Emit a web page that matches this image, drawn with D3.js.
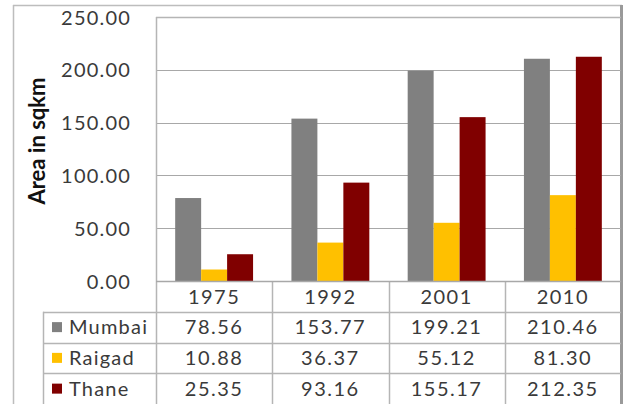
<!DOCTYPE html>
<html><head><meta charset="utf-8">
<script src="https://cdn.jsdelivr.net/npm/d3@7"></script>
<style>
html,body{margin:0;padding:0;background:#fff;}
svg{display:block;}
text{font-family:Lato,"Open Sans",sans-serif;fill:#3a3a3a;}
</style></head>
<body>
<svg id="c" width="627" height="404"></svg>
<script>
const years = ["1975","1992","2001","2010"];
const seriesNames = ["Mumbai","Raigad","Thane"];
const mumbai = [78.56,153.77,199.21,210.46];
const raigad = [10.88,36.37,55.12,81.30];
const thane  = [25.35,93.16,155.17,212.35];
const seriesValues = [mumbai, raigad, thane];
const colors = ["#808080","#FFC000","#800000"];
const yTicks = [0,50,100,150,200,250];
const yTitle = "Area in sqkm";

const svg = d3.select("#c");
const W = 627, H = 404;
const plotL = 156, plotR = 621, plotT = 17, plotB = 281;
const tableL = 43;

const y = d3.scaleLinear().domain([0,250]).range([plotB, plotT]);
const x = d3.scaleBand().domain(years).range([plotL, plotR]).padding(0);
const gap = x.bandwidth()*0.165;
const x1 = d3.scaleBand().domain(seriesNames).range([gap, x.bandwidth()-gap]).padding(0);
const rows = d3.scaleBand().domain(["year"].concat(seriesNames)).range([plotB, H]);

// outer frame
svg.append("line").attr("x1",13).attr("x2",622).attr("y1",5.5).attr("y2",5.5).attr("stroke","#bdbdbd").attr("stroke-width",1.5);
svg.append("line").attr("x1",13.5).attr("x2",13.5).attr("y1",5).attr("y2",H).attr("stroke","#bdbdbd").attr("stroke-width",1.5);
svg.append("line").attr("x1",621.5).attr("x2",621.5).attr("y1",5).attr("y2",H).attr("stroke","#9a9a9a").attr("stroke-width",3);

// gridlines
svg.append("g").selectAll("line").data(yTicks).join("line")
  .attr("x1",plotL).attr("x2",plotR)
  .attr("y1",d=>Math.round(y(d))+0.5).attr("y2",d=>Math.round(y(d))+0.5)
  .attr("stroke","#a8a8a8").attr("stroke-width",1.2);

// y axis labels via d3 axis
const yAxis = d3.axisLeft(y).tickValues(yTicks).tickFormat(d3.format(".2f")).tickSize(0).tickPadding(0);
const ga = svg.append("g").attr("transform",`translate(131,0)`).call(yAxis);
ga.select(".domain").remove();
ga.selectAll("text").attr("font-size",20).attr("letter-spacing","1.2px").attr("fill","#3a3a3a")
  .style("font-family","Lato,'Open Sans',sans-serif").attr("dy","0.35em");

// y title
svg.append("text").attr("transform","translate(45,141) rotate(-90)")
  .attr("text-anchor","middle").attr("font-size",22).attr("font-weight","bold")
  .style("fill","#111").text(yTitle);

// bars
const groups = svg.append("g").selectAll("g").data(years).join("g")
  .attr("transform",d=>`translate(${x(d)},0)`);
groups.selectAll("rect").data((d,i)=>seriesNames.map((s,k)=>({s,k,v:seriesValues[k][i]}))).join("rect")
  .attr("x",d=>x1(d.s)).attr("width",x1.bandwidth())
  .attr("y",d=>y(d.v)).attr("height",d=>y(0)-y(d.v))
  .attr("fill",d=>colors[d.k]);

// table lines
const lineC = "#b5b5b5";
svg.append("line").attr("x1",plotL+0.5).attr("x2",plotL+0.5).attr("y1",plotT).attr("y2",H).attr("stroke",lineC).attr("stroke-width",1.5);
svg.append("line").attr("x1",plotL).attr("x2",plotR).attr("y1",plotT+0.5).attr("y2",plotT+0.5).attr("stroke",lineC).attr("stroke-width",1.5);
svg.append("g").selectAll("line").data(years.slice(1)).join("line")
  .attr("x1",d=>Math.round(x(d))+0.5).attr("x2",d=>Math.round(x(d))+0.5)
  .attr("y1",plotB).attr("y2",H).attr("stroke",lineC).attr("stroke-width",1.5);
svg.append("line").attr("x1",plotL).attr("x2",plotR).attr("y1",Math.round(plotB)+0.5).attr("y2",Math.round(plotB)+0.5).attr("stroke","#a8a8a8").attr("stroke-width",1.5);
svg.append("g").selectAll("line").data(seriesNames).join("line")
  .attr("x1",tableL).attr("x2",plotR)
  .attr("y1",d=>Math.round(rows(d))+0.5).attr("y2",d=>Math.round(rows(d))+0.5)
  .attr("stroke",lineC).attr("stroke-width",1.5);
svg.append("line").attr("x1",tableL+0.5).attr("x2",tableL+0.5).attr("y1",rows("Mumbai")).attr("y2",H).attr("stroke",lineC).attr("stroke-width",1.5);

// year labels
svg.append("g").selectAll("text").data(years).join("text")
  .attr("x",d=>x(d)+x.bandwidth()/2).attr("y",rows("year")+rows.bandwidth()/2)
  .attr("dy","0.36em").attr("text-anchor","middle").attr("font-size",20).attr("letter-spacing","1.5px").text(d=>d);

// rows
seriesNames.forEach((s,k)=>{
  const cy = rows(s)+rows.bandwidth()/2;
  svg.append("rect").attr("x",52).attr("y",cy-5).attr("width",10).attr("height",10).attr("fill",colors[k]);
  svg.append("text").attr("x",69).attr("y",cy).attr("dy","0.36em").attr("font-size",20).attr("letter-spacing","1.2px").text(s);
  svg.append("g").selectAll("text").data(years).join("text")
    .attr("x",(d)=>x(d)+x.bandwidth()/2).attr("y",cy).attr("dy","0.36em")
    .attr("text-anchor","middle").attr("font-size",20).attr("letter-spacing","1.5px")
    .text((d,i)=>d3.format(".2f")(seriesValues[k][i]));
});
</script>
</body></html>
